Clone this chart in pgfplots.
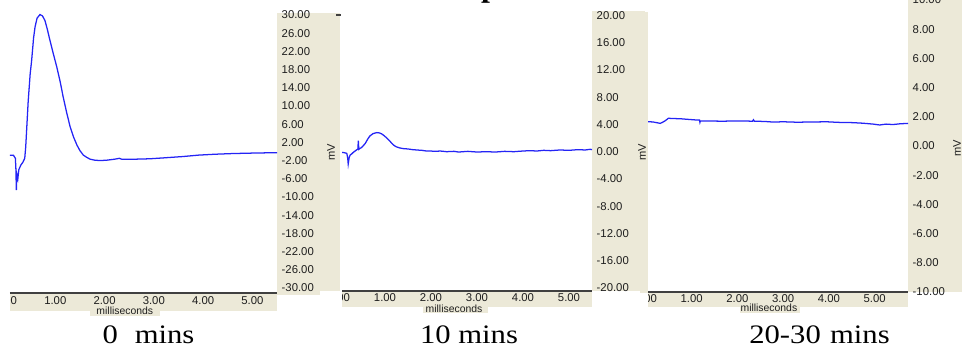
\documentclass[border=0pt]{standalone}
\usepackage{fontspec}
\setmainfont{Liberation Serif}
\newfontfamily\arial{Liberation Sans}
\usepackage{pgfplots}
\pgfplotsset{compat=1.18}
\definecolor{beige}{HTML}{ECE9D8}
\definecolor{trace}{HTML}{2424F5}
\definecolor{axgray}{HTML}{404040}
\definecolor{lbl}{HTML}{1E1E1E}
\pgfplotsset{
  panel/.style={
    scale only axis,
    anchor=south west,
    axis x line*=bottom, axis y line*=right,
    x axis line style={axgray, line width=1.1pt},
    y axis line style={draw=none},
    major tick length=0pt,
    xtick={1,2,3,4,5},
    xticklabel={\pgfmathprintnumber[fixed,fixed zerofill,precision=2,assume math mode=true]{\tick}},
    yticklabel={\pgfmathprintnumber[fixed,fixed zerofill,precision=2,assume math mode=true]{\tick}},
    tick label style={font=\arial\fontsize{8.5}{9}\selectfont, text=lbl},
    yticklabel style={anchor=west},
    xlabel={milliseconds},
    label style={font=\arial\fontsize{7.8}{8}\selectfont, text=lbl, inner sep=0.5pt},
  },
  trc/.style={trace, line width=0.95pt},
}
\begin{document}
\begin{tikzpicture}[x=0.75pt,y=-0.75pt]
\useasboundingbox (0,0) rectangle (962,351);
\clip (0,0) rectangle (962,351);
% beige strips
\fill[beige] (277,13) rectangle (340,295);
\fill[beige] (10,293) rectangle (277,311);
\fill[beige] (90,305) rectangle (160,316);
\fill[beige] (342,290) rectangle (592,307);
\fill[beige] (423,303) rectangle (488,313);
\fill[beige] (592,11) rectangle (645,291);
\fill[beige] (640,12) rectangle (648,293);
\fill[beige] (648,292) rectangle (908,307);
\fill[beige] (740,303) rectangle (800,313);
\fill[beige] (908,0) rectangle (962,292);
\draw[axgray, line width=0.8pt] (336,15) -- (341,15);
% mV labels
\node[rotate=90, font=\arial\fontsize{8.3}{9}\selectfont, text=lbl] at (331,152) {mV};
\node[rotate=90, font=\arial\fontsize{8.3}{9}\selectfont, text=lbl] at (642,152) {mV};
\node[rotate=90, font=\arial\fontsize{8.3}{9}\selectfont, text=lbl] at (957,148) {mV};
% zero labels (cut at left)
\node[font=\arial\fontsize{8.5}{9}\selectfont, text=lbl] at (6,301) {0.00};
\node[font=\arial\fontsize{8.5}{9}\selectfont, text=lbl] at (339,297.5) {0.00};
\node[font=\arial\fontsize{8.5}{9}\selectfont, text=lbl] at (646,299) {0.00};
\fill[white] (0,294) rectangle (10,316);
\fill[white] (320,291) rectangle (342,316);
\fill[white] (620,293) rectangle (647.5,316);

\coordinate (A1) at (10,293);
\coordinate (A2) at (342,291);
\coordinate (A3) at (648,292);

\begin{axis}[panel, at={(A1)}, width=200.25pt, height=210pt,
  xmin=0.081, xmax=5.5, ymin=-31.1, ymax=30.44, ytick={-30,-26,...,30},
  xticklabel style={anchor=center, yshift=-6.0pt},
  xlabel style={at={(axis description cs:0.43,0)}, anchor=center, yshift=-13.2pt}]
\addplot[trc] coordinates {
(0.08,-0.8)(0.15,-0.8)(0.19,-1.5)(0.2,-3.6)(0.21,-8.5)(0.22,-5)(0.24,-6)(0.26,-4)(0.3,-3)(0.34,-2.4)(0.38,-1.5)(0.4,1)(0.42,5)(0.45,11)(0.49,17)(0.52,20)(0.56,25)(0.59,27.4)(0.63,29.3)(0.69,30.1)(0.74,29.8)(0.79,28.8)(0.84,26.8)(0.89,24.5)(0.96,21.5)(1.03,18.6)(1.1,15.3)(1.16,12)(1.23,8.6)(1.3,5.5)(1.37,3.2)(1.44,1.4)(1.5,0.2)(1.57,-0.8)(1.64,-1.3)(1.71,-1.7)(1.8,-1.9)(1.91,-2.0)(2.05,-1.9)(2.2,-1.7)(2.3,-1.5)(2.35,-1.7)(2.58,-1.7)(2.92,-1.6)(3.2,-1.4)(3.6,-1.1)(3.9,-0.8)(4.24,-0.6)(4.6,-0.45)(5.0,-0.35)(5.5,-0.25)
};
\end{axis}

\begin{axis}[panel, at={(A2)}, width=187.5pt, height=210pt,
  xmin=0.065, xmax=5.5, ymin=-20.43, ymax=20.63, ytick={-20,-16,...,20},
  xticklabel style={anchor=center, yshift=-5.2pt},
  xlabel style={at={(axis description cs:0.448,0)}, anchor=center, yshift=-13.6pt}]
\addplot[trc] coordinates {
(0.065,-0.1)(0.12,-0.15)(0.17,-0.25)(0.19,-1.0)(0.2,-1.8)(0.22,-0.9)(0.24,-0.5)(0.28,-0.3)(0.31,-0.1)(0.35,0.1)(0.38,0.25)(0.41,0.4)(0.42,1.6)(0.43,0.35)(0.46,0.5)(0.49,0.6)(0.53,0.9)(0.57,1.2)(0.62,1.8)(0.67,2.3)(0.74,2.65)(0.82,2.8)(0.88,2.75)(0.93,2.6)(0.98,2.35)(1.04,2.0)(1.1,1.6)(1.15,1.2)(1.2,0.9)(1.25,0.7)(1.32,0.55)(1.4,0.45)(1.5,0.4)(1.6,0.3)(1.69,0.25)(1.8,0.2)(1.9,0.1)(1.98,0.1)(2.1,0.05)(2.2,0.1)(2.34,0.0)(2.5,0.05)(2.6,-0.05)(2.8,0.05)(3.0,-0.05)(3.2,0.0)(3.4,-0.05)(3.6,0.05)(3.8,0.0)(4.0,0.1)(4.15,0.15)(4.3,0.1)(4.45,0.2)(4.6,0.15)(4.8,0.25)(5.0,0.2)(5.2,0.3)(5.35,0.25)(5.46,0.35)(5.5,0.3)
};
\end{axis}

\begin{axis}[panel, at={(A3)}, width=195pt, height=219pt,
  xmin=0.044, xmax=5.73, ymin=-10, ymax=10, ytick={-10,-8,...,10},
  xticklabel style={anchor=center, yshift=-4.6pt},
  xlabel style={at={(axis description cs:0.465,0)}, anchor=center, yshift=-12.2pt}]
\addplot[trc] coordinates {
(0.044,1.66)(0.15,1.65)(0.23,1.6)(0.31,1.55)(0.36,1.62)(0.42,1.73)(0.49,1.9)(0.6,1.88)(0.74,1.87)(0.9,1.83)(1.11,1.78)(1.17,1.78)(1.18,1.62)(1.19,1.72)(1.4,1.71)(1.69,1.7)(2.0,1.72)(2.33,1.7)(2.35,1.8)(2.37,1.7)(2.6,1.68)(2.78,1.64)(3.0,1.66)(3.3,1.63)(3.51,1.64)(3.75,1.65)(3.95,1.66)(4.2,1.62)(4.53,1.6)(4.75,1.56)(4.97,1.5)(5.11,1.44)(5.25,1.5)(5.4,1.47)(5.55,1.52)(5.73,1.55)
};
\end{axis}

% captions
\node[anchor=base, font=\fontsize{20}{20}\selectfont, xscale=1.15, transform shape] at (148.5,343) {0\hspace{0.55em}mins};
\node[anchor=base, font=\fontsize{20}{20}\selectfont, xscale=1.15, transform shape] at (469,343) {10 mins};
\node[anchor=base, font=\fontsize{20}{20}\selectfont, xscale=1.15, transform shape] at (819.5,343) {20-30\hspace{0.3em}mins};
% cut-off title
\node[anchor=base, font=\bfseries\fontsize{24}{24}\selectfont] at (490,-4) {p};
\end{tikzpicture}
\end{document}
